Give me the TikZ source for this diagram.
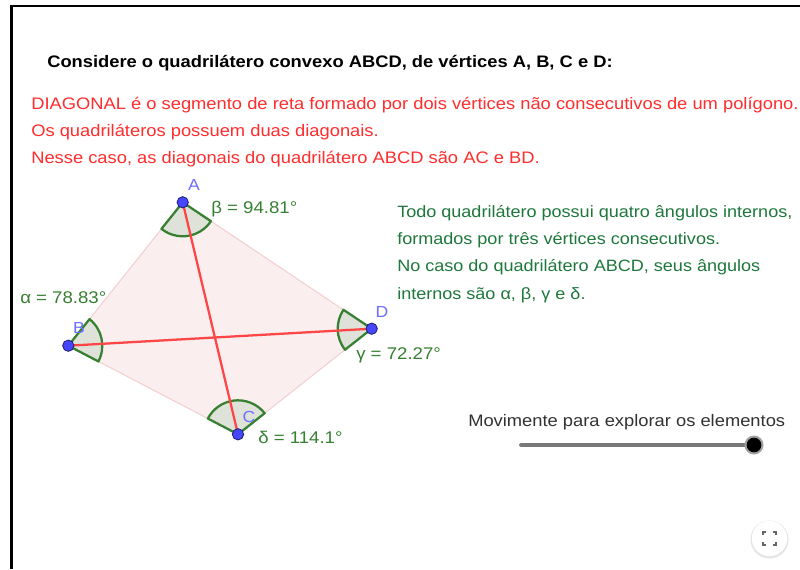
\documentclass[tikz,border=0pt]{standalone}
\usepackage{fontspec}
\setmainfont[FakeStretch=1.1]{Liberation Sans}
\usetikzlibrary{calc}
\definecolor{redtxt}{RGB}{255,45,45}
\definecolor{greentxt}{RGB}{30,120,60}
\definecolor{anggreen}{RGB}{55,128,50}
\definecolor{angfill}{RGB}{222,226,216}
\definecolor{polyfill}{RGB}{250,238,238}
\definecolor{polyedge}{RGB}{242,205,205}
\definecolor{diag}{RGB}{255,70,70}
\definecolor{ptfill}{RGB}{70,70,255}
\definecolor{ptedge}{RGB}{30,30,110}
\definecolor{ptlabel}{RGB}{110,110,255}
\definecolor{slidergray}{RGB}{120,120,120}
\definecolor{texgray}{RGB}{50,50,50}
\begin{document}
\begin{tikzpicture}[x=0.75pt,y=0.75pt,
  txt/.style={anchor=base west,inner sep=0pt,font=\fontsize{12.5pt}{14pt}\selectfont},
  redline/.style={txt,text=redtxt},
  greenline/.style={txt,text=greentxt,font=\fontsize{12.3pt}{14pt}\selectfont},
  anglab/.style={anchor=base west,inner sep=0pt,text=anggreen,font=\fontsize{12.7pt}{15pt}\selectfont},
  vlab/.style={inner sep=0pt,text=ptlabel,font=\fontsize{12pt}{14pt}\selectfont},
  sector/.style={fill=angfill,draw=anggreen,line width=1.7pt,line join=round},
  diagline/.style={draw=diag,line width=1.7pt},
  pt/.style={circle,fill=ptfill,draw=ptedge,line width=0.6pt,inner sep=0pt,minimum size=8.5pt}]
\useasboundingbox (0,0) rectangle (800,-569);
\fill[white] (0,0) rectangle (800,-569);
% frame
\draw[line width=1.6pt] (11.5,-569) -- (11.5,-6) -- (800,-6);

% texts
\node[txt,font=\bfseries\fontsize{12.5pt}{14pt}\selectfont] (title) at (47,-67) {Considere o quadrilátero convexo ABCD, de vértices A, B, C e D:};
\node[redline] (r1) at (31,-109) {DIAGONAL é o segmento de reta formado por dois vértices não consecutivos de um polígono.};
\node[redline] (r2) at (31,-136) {Os quadriláteros possuem duas diagonais.};
\node[redline] (r3) at (31,-163) {Nesse caso, as diagonais do quadrilátero ABCD são AC e BD.};
\node[greenline] (g1) at (397,-217) {Todo quadrilátero possui quatro ângulos internos,};
\node[greenline] (g2) at (397,-244) {formados por três vértices consecutivos.};
\node[greenline] (g3) at (397,-271.5) {No caso do quadrilátero ABCD, seus ângulos};
\node[greenline] (g4) at (397,-299) {internos são α, β, γ e δ.};

% quadrilateral
\coordinate (A) at (182.7,-202.3);
\coordinate (B) at (68.3,-345.7);
\coordinate (C) at (238,-434.3);
\coordinate (D) at (371.7,-328.7);
\filldraw[fill=polyfill,draw=polyedge,line width=0.7pt] (A) -- (B) -- (C) -- (D) -- cycle;

% angle sectors
\path[sector] (A) -- ++(231.4:34) arc[start angle=231.4,end angle=326.2,radius=34] -- cycle;
\path[sector] (B) -- ++(-27.6:34) arc[start angle=-27.6,end angle=51.4,radius=34] -- cycle;
\path[sector] (C) -- ++(38.3:34) arc[start angle=38.3,end angle=152.4,radius=34] -- cycle;
\path[sector] (D) -- ++(146.2:34) arc[start angle=146.2,end angle=218.3,radius=34] -- cycle;

% diagonals
\draw[diagline] (A) -- (C);
\draw[diagline] (B) -- (D);

% points
\node[pt] (pA) at (A) {};
\node[pt] (pB) at (B) {};
\node[pt] (pC) at (C) {};
\node[pt] (pD) at (D) {};
\node[vlab] (lA) at (194,-185) {A};
\node[vlab] (lB) at (79,-328) {B};
\node[vlab] (lC) at (249,-417) {C};
\node[vlab] (lD) at (382,-312) {D};

% angle labels
\node[anglab] (beta) at (211,-213) {β = 94.81°};
\node[anglab] (alpha) at (20,-303) {α = 78.83°};
\node[anglab] (gamma) at (356,-359) {γ = 72.27°};
\node[anglab] (delta) at (258,-443) {δ = 114.1°};

% slider
\node[txt,text=texgray] (mov) at (468,-426.5) {Movimente para explorar os elementos};
\coordinate (s0) at (521.5,-445);
\coordinate (s1) at (754,-445);
\draw[slidergray,line width=3.6pt,line cap=round] (s0) -- (s1);
\fill[slidergray!70] (s1) circle (9.5);
\node[circle,fill=black,inner sep=0pt,minimum size=11pt] (knob) at (s1) {};

% fullscreen button
\fill[black!10] (769.5,-539.5) circle (19);
\node[circle,fill=white,inner sep=0pt,minimum size=26.5pt] (fs) at (769.5,-538.5) {};
\begin{scope}[line width=1.4pt,draw=black!60]
\draw (763,-535) -- (763,-532) -- (766,-532);
\draw (773,-532) -- (776,-532) -- (776,-535);
\draw (763,-542) -- (763,-545) -- (766,-545);
\draw (773,-545) -- (776,-545) -- (776,-542);
\end{scope}
\end{tikzpicture}
\end{document}
